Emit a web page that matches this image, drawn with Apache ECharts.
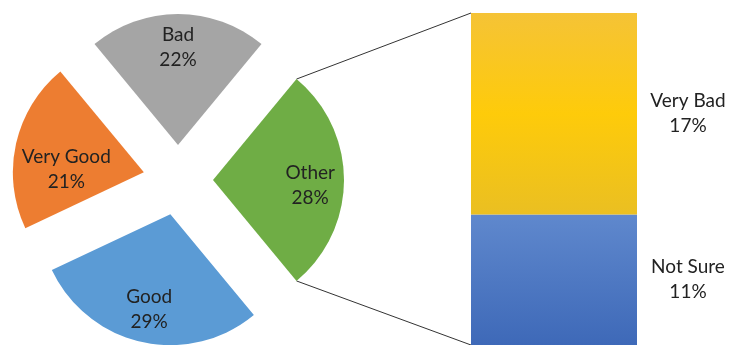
<!DOCTYPE html>
<html>
<head>
<meta charset="utf-8">
<script src="https://cdn.jsdelivr.net/npm/echarts@6/dist/echarts.min.js"></script>
<style>
  html, body { margin: 0; padding: 0; background: #fff; }
  #chart { width: 729px; height: 345px; }
</style>
</head>
<body>
<div id="chart"></div>
<script>
// pie slices, counter-clockwise starting from the lower-right edge of "Other"
const pieNames = ['Other', 'Bad', 'Very Good', 'Good'];
const pieValues = [28, 22, 21, 29];
// breakdown of "Other" shown in the stacked bar
const barCategories = ['Other'];
const notSureValues = [11];
const veryBadValues = [17];

const pieColors = ['#6FAD45', '#A5A5A5', '#ED7D31', '#5B9BD5'];
const cx = 178, cy = 180, R = 131, explode = 35;
// label placement: fraction of radius from the slice tip, and angle tweak
const labelFrac = [0.72, 0.72, 0.57, 0.72];
const labelTurn = [-3, 0, 11, 0];

var total = pieValues.reduce(function (a, b) { return a + b; }, 0);
var startAngle = -pieValues[0] / total * 180; // "Other" centred on the right
var acc = startAngle;
var midAngles = pieValues.map(function (v) {
  var span = v / total * 360;
  var m = acc + span / 2;
  acc += span;
  return m;
});
var rad = Math.PI / 180;

var chart = echarts.init(document.getElementById('chart'));
var textStyle = { fontFamily: 'Lato', fontSize: 19, lineHeight: 25, color: '#222' };

var option = {
  animation: false,
  grid: { left: 471, width: 166, top: 13, height: 338 },
  xAxis: { type: 'category', data: barCategories, show: false },
  yAxis: { type: 'value', min: 0, max: 28, show: false },
  series: [
    {
      type: 'pie',
      center: [cx, cy],
      radius: [0, R],
      startAngle: startAngle,
      clockwise: false,
      selectedMode: 'multiple',
      selectedOffset: explode,
      silent: true,
      label: Object.assign({ position: 'inner', formatter: '{b}\n{c}%' }, textStyle),
      labelLine: { show: false },
      labelLayout: function (params) {
        var i = params.dataIndex;
        var m = midAngles[i] * rad, t = (midAngles[i] + labelTurn[i]) * rad;
        var d = labelFrac[i] * R;
        return {
          dx: d * Math.cos(t) - (R / 2) * Math.cos(m),
          dy: -d * Math.sin(t) + (R / 2) * Math.sin(m)
        };
      },
      data: pieNames.map(function (n, i) {
        return { name: n, value: pieValues[i], selected: true, itemStyle: { color: pieColors[i] } };
      })
    },
    {
      name: 'Not Sure',
      type: 'bar',
      stack: 'other',
      barWidth: '100%',
      data: notSureValues,
      itemStyle: {
        color: new echarts.graphic.LinearGradient(0, 0, 0, 1, [
          { offset: 0, color: '#5F88CD' },
          { offset: 1, color: '#3E69B8' }
        ])
      },
      label: Object.assign({ show: true, position: 'right', distance: 51, align: 'center', formatter: '{a}\n{c}%' }, textStyle)
    },
    {
      name: 'Very Bad',
      type: 'bar',
      stack: 'other',
      barWidth: '100%',
      data: veryBadValues,
      itemStyle: {
        color: new echarts.graphic.LinearGradient(0, 0, 0, 1, [
          { offset: 0, color: '#F5C336' },
          { offset: 0.5, color: '#FECB0A' },
          { offset: 1, color: '#EABF22' }
        ])
      },
      label: Object.assign({ show: true, position: 'right', distance: 51, align: 'center', formatter: '{a}\n{c}%' }, textStyle)
    }
  ]
};
chart.setOption(option);

// connector lines from the exploded "Other" slice to the bar
var apexX = cx + explode * Math.cos(midAngles[0] * rad);
var apexY = cy - explode * Math.sin(midAngles[0] * rad);
var a0 = startAngle * rad, a1 = (startAngle + pieValues[0] / total * 360) * rad;
var topPt = [apexX + R * Math.cos(a1), apexY - R * Math.sin(a1)];
var botPt = [apexX + R * Math.cos(a0), apexY - R * Math.sin(a0)];
var barTop = chart.convertToPixel({ yAxisIndex: 0 }, notSureValues[0] + veryBadValues[0]);
var barBot = chart.convertToPixel({ yAxisIndex: 0 }, 0);
var barLeft = 471;

chart.setOption({
  graphic: [
    { type: 'line', shape: { x1: topPt[0], y1: topPt[1], x2: barLeft, y2: barTop }, style: { stroke: '#333', lineWidth: 1 } },
    { type: 'line', shape: { x1: botPt[0], y1: botPt[1], x2: barLeft, y2: barBot }, style: { stroke: '#333', lineWidth: 1 } }
  ]
});
</script>
</body>
</html>
